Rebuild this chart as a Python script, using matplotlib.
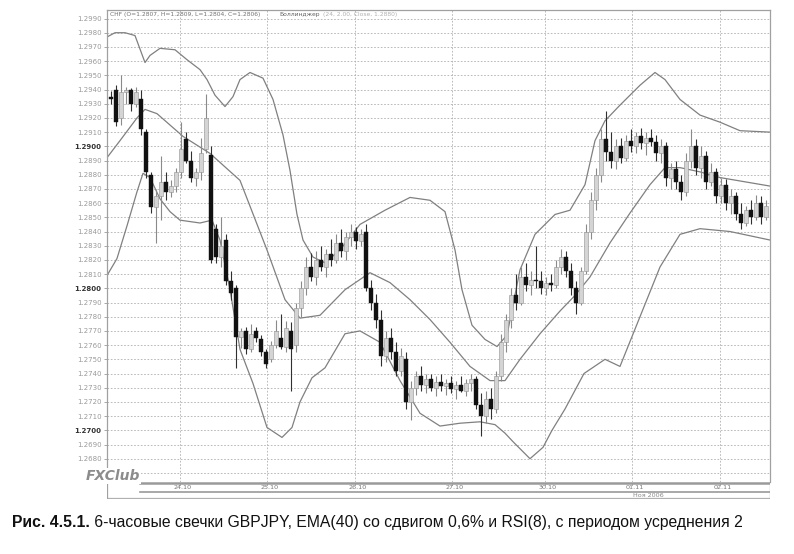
import matplotlib
matplotlib.use("Agg")
import matplotlib.pyplot as plt
from matplotlib.lines import Line2D

# ---------------- data ----------------
opens = [1.2935,1.2940,1.2920,1.2938,1.2940,1.2930,1.2933,1.2910,1.2880,1.2857,
         1.2865,1.2875,1.2868,1.2872,1.2882,1.2905,1.2890,1.2878,1.2882,1.2898,
         1.2894,1.2842,1.2822,1.2834,1.2805,1.2800,1.2766,1.2770,1.2757,1.2770,
         1.2764,1.2755,1.2750,1.2760,1.2765,1.2759,1.2770,1.2760,1.2786,1.2800,
         1.2815,1.2808,1.2820,1.2815,1.2824,1.2820,1.2832,1.2826,1.2836,1.2840,
         1.2833,1.2840,1.2800,1.2790,1.2778,1.2752,1.2765,1.2755,1.2742,1.2750,
         1.2720,1.2730,1.2738,1.2732,1.2736,1.2730,1.2734,1.2731,1.2733,1.2729,
         1.2732,1.2728,1.2733,1.2736,1.2718,1.2710,1.2722,1.2715,1.2738,1.2762,
         1.2778,1.2795,1.2790,1.2808,1.2802,1.2806,1.2805,1.2800,1.2804,1.2802,
         1.2815,1.2822,1.2812,1.2800,1.2790,1.2812,1.2840,1.2862,1.2880,1.2905,
         1.2896,1.2890,1.2900,1.2892,1.2904,1.2900,1.2907,1.2902,1.2906,1.2903,
         1.2895,1.2900,1.2878,1.2884,1.2875,1.2868,1.2890,1.2900,1.2885,1.2893,
         1.2875,1.2882,1.2865,1.2873,1.2860,1.2865,1.2852,1.2846,1.2855,1.2850,
         1.2860,1.2850]
highs = [1.2939,1.2943,1.2950,1.2942,1.2941,1.2942,1.2940,1.2912,1.2882,1.2870,
         1.2893,1.2882,1.2876,1.2885,1.2917,1.2910,1.2897,1.2885,1.2906,1.2937,
         1.2900,1.2845,1.2850,1.2838,1.2812,1.2802,1.2772,1.2773,1.2775,1.2773,
         1.2767,1.2757,1.2763,1.2778,1.2782,1.2777,1.2776,1.2790,1.2805,1.2822,
         1.2825,1.2826,1.2830,1.2828,1.2835,1.2838,1.2842,1.2840,1.2845,1.2843,
         1.2842,1.2845,1.2806,1.2796,1.2785,1.2770,1.2772,1.2762,1.2758,1.2755,
         1.2735,1.2742,1.2745,1.2740,1.2740,1.2738,1.2740,1.2736,1.2738,1.2735,
         1.2738,1.2736,1.2740,1.2738,1.2726,1.2728,1.2730,1.2742,1.2768,1.2782,
         1.2800,1.2810,1.2815,1.2818,1.2812,1.2830,1.2812,1.2808,1.2810,1.2820,
         1.2828,1.2826,1.2818,1.2805,1.2815,1.2845,1.2868,1.2885,1.2912,1.2925,
         1.2910,1.2905,1.2906,1.2908,1.2912,1.2910,1.2913,1.2910,1.2912,1.2908,
         1.2905,1.2903,1.2888,1.2890,1.2880,1.2895,1.2912,1.2905,1.2900,1.2897,
         1.2888,1.2885,1.2878,1.2877,1.2870,1.2868,1.2860,1.2858,1.2862,1.2866,
         1.2865,1.2862]
lows = [1.2930,1.2914,1.2915,1.2930,1.2925,1.2928,1.2908,1.2878,1.2853,1.2832,
        1.2848,1.2862,1.2864,1.2868,1.2878,1.2888,1.2875,1.2872,1.2876,1.2895,
        1.2818,1.2818,1.2815,1.2802,1.2792,1.2744,1.2758,1.2754,1.2755,1.2762,
        1.2752,1.2744,1.2748,1.2758,1.2757,1.2755,1.2728,1.2755,1.2780,1.2795,
        1.2805,1.2802,1.2812,1.2808,1.2816,1.2818,1.2822,1.2820,1.2830,1.2828,
        1.2830,1.2798,1.2785,1.2772,1.2745,1.2748,1.2750,1.2738,1.2738,1.2715,
        1.2707,1.2725,1.2728,1.2726,1.2728,1.2724,1.2728,1.2725,1.2726,1.2722,
        1.2727,1.2724,1.2728,1.2715,1.2696,1.2705,1.2708,1.2712,1.2735,1.2755,
        1.2772,1.2785,1.2788,1.2798,1.2795,1.2800,1.2796,1.2795,1.2798,1.2800,
        1.2810,1.2808,1.2795,1.2782,1.2788,1.2810,1.2835,1.2855,1.2875,1.2890,
        1.2885,1.2884,1.2888,1.2890,1.2896,1.2895,1.2898,1.2894,1.2900,1.2890,
        1.2888,1.2872,1.2870,1.2870,1.2862,1.2865,1.2885,1.2880,1.2878,1.2870,
        1.2872,1.2860,1.2860,1.2855,1.2852,1.2848,1.2842,1.2844,1.2845,1.2848,
        1.2845,1.2848]
closes = [1.2933,1.2917,1.2938,1.2940,1.2930,1.2938,1.2912,1.2882,1.2857,1.2865,
          1.2875,1.2868,1.2872,1.2882,1.2898,1.2890,1.2878,1.2882,1.2895,1.2920,
          1.2820,1.2822,1.2830,1.2805,1.2797,1.2766,1.2770,1.2757,1.2768,1.2765,
          1.2755,1.2747,1.2760,1.2770,1.2759,1.2772,1.2757,1.2786,1.2800,1.2815,
          1.2808,1.2820,1.2815,1.2824,1.2820,1.2832,1.2826,1.2836,1.2840,1.2833,
          1.2838,1.2800,1.2790,1.2778,1.2752,1.2765,1.2755,1.2742,1.2752,1.2720,
          1.2730,1.2738,1.2732,1.2736,1.2730,1.2734,1.2731,1.2733,1.2729,1.2732,
          1.2728,1.2733,1.2736,1.2718,1.2710,1.2722,1.2715,1.2738,1.2762,1.2778,
          1.2795,1.2790,1.2808,1.2802,1.2806,1.2805,1.2800,1.2804,1.2802,1.2815,
          1.2822,1.2812,1.2800,1.2790,1.2812,1.2840,1.2862,1.2880,1.2905,1.2896,
          1.2890,1.2900,1.2892,1.2904,1.2900,1.2907,1.2902,1.2906,1.2903,1.2895,
          1.2900,1.2878,1.2884,1.2875,1.2868,1.2890,1.2900,1.2885,1.2893,1.2875,
          1.2882,1.2865,1.2873,1.2860,1.2865,1.2852,1.2846,1.2855,1.2850,1.2860,
          1.2850,1.2858]

upper_x = [-0.8,0.8,2.8,4.8,6.8,7.8,9.8,12.8,15.2,17.8,19.2,20.8,22.8,24.4,25.8,27.8,
           30.4,32.4,34.4,35.8,37.2,38.4,40.4,42.8,45.8,49.8,54.8,59.8,63.8,66.8,68.8,
           70.2,72.2,74.8,77.2,79.2,81.8,84.8,88.8,91.8,94.8,96.8,98.8,101.8,105.8,
           108.8,110.8,113.8,117.8,121.8,125.8,131.8]
upper_y = [1.2977,1.2980,1.2980,1.2978,1.2959,1.2964,1.2969,1.2968,1.2961,1.2954,1.2947,
           1.2936,1.2928,1.2935,1.2947,1.2952,1.2948,1.2933,1.2908,1.2883,1.2852,1.2834,
           1.2822,1.2818,1.2827,1.2845,1.2855,1.2864,1.2862,1.2854,1.2827,1.2799,1.2774,
           1.2764,1.2759,1.2767,1.2813,1.2838,1.2852,1.2855,1.2873,1.2904,1.2918,1.2929,
           1.2943,1.2952,1.2947,1.2933,1.2922,1.2917,1.2911,1.2910]
mid_x = [-0.8,1.8,5.2,6.8,9.2,14.4,19.8,25.8,31.2,34.8,37.8,41.8,46.8,51.8,55.8,59.8,
         63.8,67.8,71.8,75.8,78.8,81.8,85.8,89.8,92.8,95.8,99.8,103.8,107.8,110.8,
         113.8,117.8,121.8,126.8,131.8]
mid_y = [1.2892,1.2904,1.2920,1.2926,1.2923,1.2907,1.2895,1.2876,1.2827,1.2792,1.2779,
         1.2781,1.2799,1.2811,1.2804,1.2792,1.2778,1.2762,1.2745,1.2735,1.2735,1.2750,
         1.2768,1.2784,1.2795,1.2808,1.2832,1.2853,1.2873,1.2885,1.2885,1.2882,1.2878,
         1.2875,1.2872]
lower_x = [-0.8,1.2,3.2,5.2,6.4,7.8,9.8,11.8,13.8,17.8,20.2,21.8,23.8,25.8,28.4,31.2,
           34.2,36.2,37.8,40.2,42.8,46.8,49.8,53.8,57.8,61.8,65.8,69.8,73.8,76.8,78.8,
           80.4,83.8,86.4,88.2,90.8,94.6,98.8,101.8,105.8,109.8,113.8,117.8,123.8,131.8]
lower_y = [1.2809,1.2821,1.2844,1.2868,1.2881,1.2878,1.2863,1.2854,1.2848,1.2846,1.2848,
           1.2834,1.2799,1.2757,1.2733,1.2702,1.2695,1.2702,1.2720,1.2737,1.2744,1.2768,
           1.2770,1.2762,1.2735,1.2712,1.2703,1.2705,1.2706,1.2704,1.2698,1.2692,1.2680,
           1.2688,1.2700,1.2715,1.2740,1.2750,1.2745,1.2780,1.2815,1.2838,1.2842,1.2840,
           1.2834]

y_ticks = [1.2680 + 0.001 * k for k in range(32)]
x_tick_pos = [13.8, 31.2, 48.8, 68.2, 86.8, 104.2, 121.8]
x_tick_labels = ["24.10", "25.10", "26.10", "27.10", "30.10", "01.11", "02.11"]
month_label = "Ноя 2006"
header_main = "CHF (O=1.2807, H=1.2809, L=1.2804, C=1.2806)"
header_ind = "Боллинджер"
header_par = "(24, 2.00, Close, 1.2880)"
caption_bold = "Рис. 4.5.1."
caption_rest = " 6-часовые свечки GBPJPY, EMA(40) со сдвигом 0,6% и RSI(8), с периодом усреднения 2"

# ---------------- layout ----------------
W, H = 794, 554
fig = plt.figure(figsize=(W / 100, H / 100), dpi=100)
fig.patch.set_facecolor("white")

def fx(px):
    return px / W

def fy(py):
    return 1 - py / H

L, R, T, B = 107, 770, 10, 482
ax = fig.add_axes([fx(L), fy(B), fx(R) - fx(L), fy(T) - fy(B)])
ax.set_xlim(-0.8, 131.8)
ax.set_ylim(1.26636, 1.29960)

grid_c = "#b0b0b0"
for yv in y_ticks:
    ax.axhline(yv, color=grid_c, lw=0.6, ls=(0, (2, 2)), zorder=0)
ax.axhline(1.2670, color=grid_c, lw=0.6, ls=(0, (2, 2)), zorder=0)
for xv in x_tick_pos:
    ax.axvline(xv, color=grid_c, lw=0.6, ls=(0, (2, 2)), zorder=0)

# bands
band_c = "#808080"
ax.plot(upper_x, upper_y, color=band_c, lw=0.9, zorder=2)
ax.plot(mid_x, mid_y, color=band_c, lw=0.9, zorder=2)
ax.plot(lower_x, lower_y, color=band_c, lw=0.9, zorder=2)

# candles
n = len(closes)
for i in range(n):
    o, h, l, c = opens[i], highs[i], lows[i], closes[i]
    bear = c < o
    wick_c = "#303030" if bear else "#8a8a8a"
    ax.vlines(i, l, h, color=wick_c, lw=0.8, zorder=3)
    lo, hi = min(o, c), max(o, c)
    if hi - lo < 0.00012:
        hi = lo + 0.00012
    if bear:
        ax.bar(i, hi - lo, bottom=lo, width=0.62, color="#111111",
               edgecolor="#111111", lw=0.3, zorder=4)
    else:
        ax.bar(i, hi - lo, bottom=lo, width=0.62, color="#d4d4d4",
               edgecolor="#909090", lw=0.4, zorder=4)

ax.set_yticks(y_ticks)
ax.set_yticklabels([f"{yv:.4f}" for yv in y_ticks])
for lab, yv in zip(ax.get_yticklabels(), y_ticks):
    k = round(yv * 10000)
    if k % 100 == 0:
        lab.set_color("#333333")
        lab.set_fontweight("bold")
    else:
        lab.set_color("#9a9a9a")
    lab.set_fontsize(5)
ax.tick_params(axis="y", length=2.5, width=0.6, color="#999999", pad=1.5)
ax.set_xticks([])
for s in ax.spines.values():
    s.set_color("#a0a0a0")
    s.set_linewidth(0.9)
ax.spines["bottom"].set_visible(False)

# header
ax.text(0.005, 0.9955, header_main, transform=ax.transAxes, fontsize=4.3,
        color="#707070", va="top", ha="left", zorder=6)
ax.text(0.26, 0.9955, header_ind, transform=ax.transAxes, fontsize=4.3,
        color="#606060", va="top", ha="left", zorder=6)
ax.text(0.326, 0.9955, header_par, transform=ax.transAxes, fontsize=4.3,
        color="#b0b0b0", va="top", ha="left", zorder=6)

# bottom date band
bx = fig.add_axes([fx(L), fy(499), fx(R) - fx(L), fy(B) - fy(499)])
bx.set_xlim(ax.get_xlim())
bx.set_ylim(499, 482)
bx.axis("off")
band_line = "#9a9a9a"
bx.add_line(Line2D([5.8, 131.8], [482.5, 482.5], color=band_line, lw=1.8))
bx.add_line(Line2D([5.8, 131.8], [491.5, 491.5], color=band_line, lw=1.2))
bx.add_line(Line2D([-0.8, 131.8], [498.3, 498.3], color="#b0b0b0", lw=0.9))
bx.add_line(Line2D([-0.8, -0.8], [482, 498.5], color="#a0a0a0", lw=0.9))
bx.add_line(Line2D([131.8, 131.8], [482, 498.5], color="#a0a0a0", lw=0.9))
for xv, lab in zip(x_tick_pos, x_tick_labels):
    bx.add_line(Line2D([xv, xv], [482.5, 484.5], color=band_line, lw=0.6))
    bx.text(xv + 0.6, 487.3, lab, fontsize=4.6, color="#777777",
            ha="center", va="center")
bx.text(107.5, 495.2, month_label, fontsize=4.6, color="#888888",
        ha="center", va="center")

# logo (overlapping the lower-left corner like the reference)
fig.text(fx(140), fy(476), "FXClub", fontsize=10, style="italic",
         fontweight="bold", color="#8c8c8c", ha="right", va="center",
         family="DejaVu Sans", zorder=10,
         bbox=dict(facecolor="white", edgecolor="none", pad=0.5))

# caption
fig.canvas.draw()
r = fig.canvas.get_renderer()
cap_family = ["Liberation Sans", "DejaVu Sans"]
t1 = fig.text(fx(12), fy(527), caption_bold, fontsize=11.3, fontweight="bold",
              family=cap_family, color="#111111", va="baseline", ha="left")
bb1 = t1.get_window_extent(r)
t2 = fig.text(bb1.x1 / W, fy(527), caption_rest, fontsize=11.3,
              family=cap_family, color="#111111", va="baseline", ha="left")

fig.savefig("out.png", dpi=100, facecolor="white")
